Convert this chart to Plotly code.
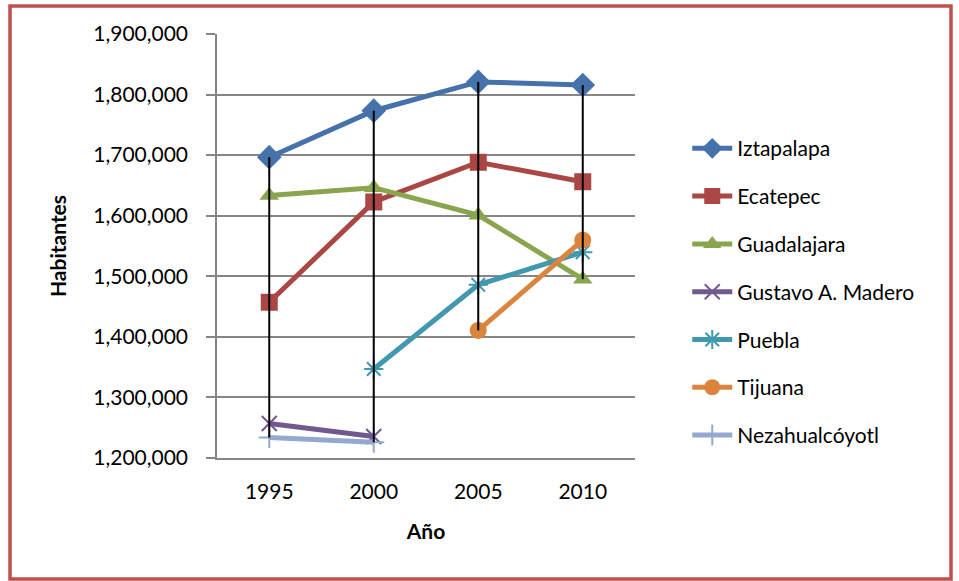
import plotly.graph_objects as go

# Population by municipality (habitantes), census/count years
years = ["1995", "2000", "2005", "2010"]

iztapalapa = [1696609, 1773343, 1820888, 1815786]
ecatepec = [1457124, 1622697, 1688258, 1656107]
guadalajara = [1633216, 1646319, 1600940, 1495182]
gustavo_madero = [1256913, 1235542, None, None]
puebla = [None, 1346916, 1485941, 1539819]
tijuana = [None, None, 1410687, 1559683]
nezahualcoyotl = [1233868, 1225972, None, None]

series_names = ["Iztapalapa", "Ecatepec", "Guadalajara", "Gustavo A. Madero",
                "Puebla", "Tijuana", "Nezahualcóyotl"]
series_values = [iztapalapa, ecatepec, guadalajara, gustavo_madero,
                 puebla, tijuana, nezahualcoyotl]

y_ticks = [1200000, 1300000, 1400000, 1500000, 1600000, 1700000, 1800000, 1900000]

styles = [
    dict(color="#4572AA", symbol="diamond", size=19, open=False),
    dict(color="#AA4643", symbol="square", size=17, open=False),
    dict(color="#89A54E", symbol="triangle-up", size=17, open=False),
    dict(color="#71588F", symbol="x-thin-open", size=15, open=True),
    dict(color="#4198AF", symbol="asterisk-open", size=16, open=True),
    dict(color="#DB843D", symbol="circle", size=17, open=False),
    dict(color="#93A9CF", symbol="cross-thin-open", size=15, open=True),
]

FONT = "Lato, Calibri, Carlito, sans-serif"
FS = 21

fig = go.Figure()

for i, (name, vals, st) in enumerate(zip(series_names, series_values, styles)):
    marker = dict(symbol=st["symbol"], size=st["size"], color=st["color"])
    if st["open"]:
        marker["line"] = dict(color=st["color"], width=2)
    else:
        marker["line"] = dict(width=0)
    fig.add_trace(go.Scatter(
        x=years, y=vals, name=name, mode="lines+markers",
        line=dict(color=st["color"], width=5),
        marker=marker,
        legendgroup=f"g{i}",
        connectgaps=False,
    ))

# High-low lines: from the highest to the lowest value in each year
hl_x, hl_y = [], []
for j, yr in enumerate(years):
    present = [v[j] for v in series_values if v[j] is not None]
    hl_x += [yr, yr, None]
    hl_y += [max(present), min(present), None]
fig.add_trace(go.Scatter(
    x=hl_x, y=hl_y, mode="lines", line=dict(color="black", width=2),
    showlegend=False, hoverinfo="skip",
))

fig.update_layout(
    width=959, height=581,
    margin=dict(l=217, r=324, t=34, b=123),
    paper_bgcolor="white", plot_bgcolor="white",
    font=dict(family=FONT, size=FS, color="black"),
    showlegend=True,
    legend=dict(
        x=1.125, y=0.778, xanchor="left", yanchor="top",
        font=dict(family=FONT, size=FS, color="black"),
        tracegroupgap=17.5, itemwidth=40, bgcolor="rgba(0,0,0,0)",
    ),
    xaxis=dict(
        type="category", range=[-0.5, 3.5],
        showline=True, linecolor="#868686", linewidth=1.5,
        showgrid=False, ticks="outside", ticklen=14, tickcolor="rgba(0,0,0,0)",
        tickfont=dict(size=FS),
        title=dict(text="<b>Año</b>", font=dict(size=FS), standoff=22),
    ),
    yaxis=dict(
        range=[1200000, 1900000], tickvals=y_ticks, tickformat=",d",
        showline=True, linecolor="#868686", linewidth=1.5,
        showgrid=True, gridcolor="#868686", gridwidth=1.5,
        ticks="outside", ticklen=9, tickcolor="#868686", tickwidth=1.5,
        ticklabelstandoff=14,
        tickfont=dict(size=FS), zeroline=False,
        title=dict(text="<b>Habitantes</b>", font=dict(size=FS), standoff=21),
    ),
    shapes=[dict(
        type="rect", xref="paper", yref="paper",
        x0=-207 / 418, x1=(951 - 217) / 418,
        y0=-(579 - 458) / 424, y1=1 + (34 - 6) / 424,
        line=dict(color="#C0504D", width=3.5), fillcolor="rgba(0,0,0,0)",
        layer="below",
    )],
)

fig.write_html("out.html")
